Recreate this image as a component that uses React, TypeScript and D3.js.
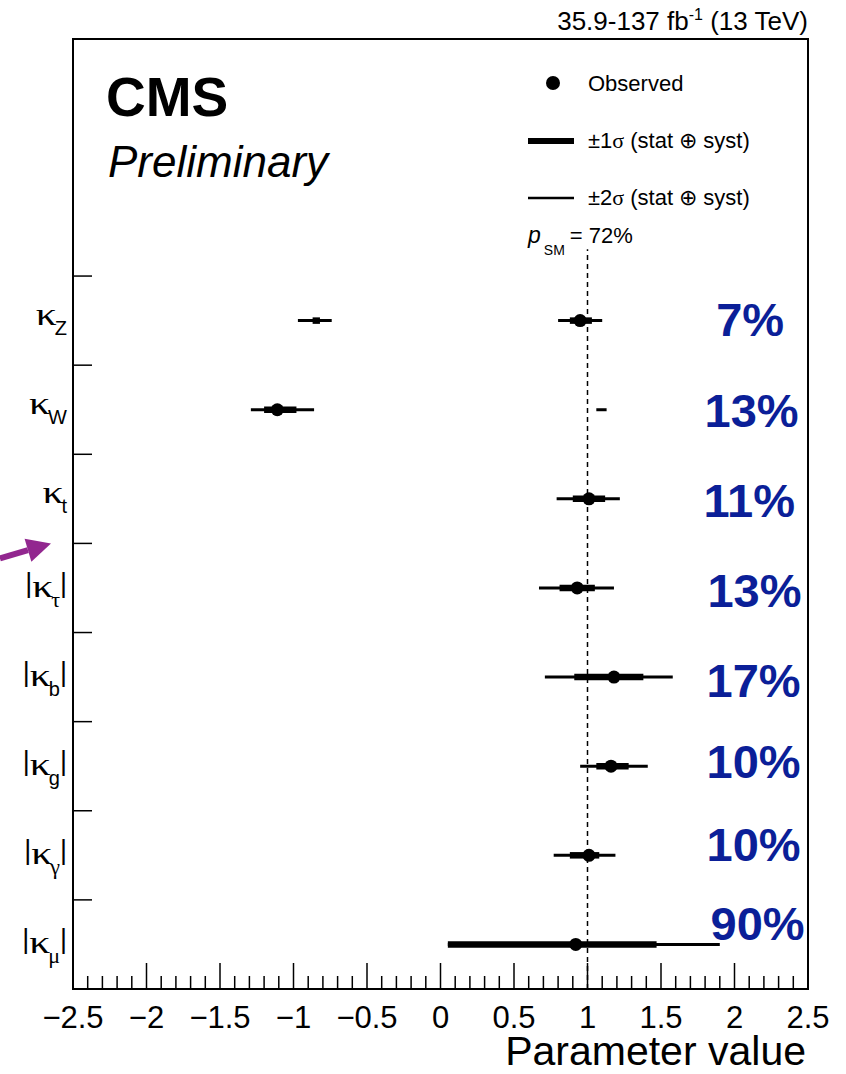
import React from "react";
import * as d3 from "d3";

// ---------- data ----------
const labelBase = ["κ", "κ", "κ", "κ", "κ", "κ", "κ", "κ"];
const labelSub = ["Z", "W", "t", "τ", "b", "g", "γ", "μ"];
const labelAbs = [false, false, false, true, true, true, true, true];
const bestFit = [0.95, -1.11, 1.01, 0.93, 1.18, 1.16, 1.01, 0.92];
const sigma1: number[][][] = [
  [[-0.87, -0.82], [0.88, 1.03]],
  [[-1.2, -0.98]],
  [[0.9, 1.12]],
  [[0.81, 1.05]],
  [[0.91, 1.38]],
  [[1.06, 1.28]],
  [[0.88, 1.08]],
  [[0.05, 1.47]],
];
const sigma2: number[][][] = [
  [[-0.97, -0.74], [0.8, 1.1]],
  [[-1.29, -0.86], [1.06, 1.13]],
  [[0.79, 1.22]],
  [[0.67, 1.18]],
  [[0.71, 1.58]],
  [[0.95, 1.41]],
  [[0.77, 1.19]],
  [[0.05, 1.9]],
];
const precision = ["7%", "13%", "11%", "13%", "17%", "10%", "10%", "90%"];
// annotation anchor for precision labels, in data units (x value, y value of baseline)
const precisionX = [1.875, 1.796, 1.789, 1.816, 1.81, 1.81, 1.81, 1.837];
const precisionY = [7.326, 6.305, 5.295, 4.285, 3.276, 2.367, 1.436, 0.55];
const xTickValues = [-2.5, -2, -1.5, -1, -0.5, 0, 0.5, 1, 1.5, 2, 2.5];
const xTickLabels = ["−2.5", "−2", "−1.5", "−1", "−0.5", "0", "0.5", "1", "1.5", "2", "2.5"];
const smValue = 1;
const pSM = "72%";

// ---------- layout ----------
const W = 846;
const H = 1074;
const left = 73;
const right = 808;
const top = 39;
const bottom = 989;
const N = labelBase.length;

const x = d3.scaleLinear().domain([-2.5, 2.5]).range([left, right]);
const y = d3.scaleLinear().domain([0, 10.66]).range([bottom, top]);
const rowY = (i: number) => y(N - 1 - i + 0.5);

const SANS = "'Liberation Sans', Arial, Helvetica, sans-serif";
const SERIF = "'Liberation Serif', 'Times New Roman', serif";
const BLUE = "#0b1f98";

export default function App() {
  const minor = d3.range(-25, 26).map((k) => k / 10);
  const yTicks = d3.range(1, N + 1);
  const arrowTipY = y(5);
  const arrowTipX = 51;
  const ang = Math.atan2(-15, 51);
  const ux = Math.cos(ang), uy = Math.sin(ang);
  const headLen = 24, headHalf = 12;
  const bx = arrowTipX - headLen * ux, by = arrowTipY - headLen * uy;
  const arrowStart = { x: 0, y: arrowTipY + 15 };
  const headPts = [
    [arrowTipX, arrowTipY],
    [bx - uy * headHalf, by + ux * headHalf],
    [bx + uy * headHalf, by - ux * headHalf],
  ];

  return (
    <svg
      width={W}
      height={H}
      style={{ position: "absolute", left: 0, top: 0, background: "#fff" }}
      xmlns="http://www.w3.org/2000/svg"
    >
      <rect x={0} y={0} width={W} height={H} fill="#fff" />

      {/* header */}
      <text x={808} y={30} textAnchor="end" fontFamily={SANS} fontSize={26} fill="#000">
        35.9-137 fb
        <tspan fontSize={16} dy={-10}>-1</tspan>
        <tspan dy={10}> (13 TeV)</tspan>
      </text>

      {/* SM dashed line */}
      <line
        x1={x(smValue)}
        x2={x(smValue)}
        y1={y(0)}
        y2={y(8.3)}
        stroke="#000"
        strokeWidth={1.5}
        strokeDasharray="5,4"
      />

      {/* data */}
      {bestFit.map((v, i) => (
        <g key={i}>
          {sigma2[i].map((iv, k) => (
            <line key={"s2" + k} x1={x(iv[0])} x2={x(iv[1])} y1={rowY(i)} y2={rowY(i)} stroke="#000" strokeWidth={3} />
          ))}
          {sigma1[i].map((iv, k) => (
            <line key={"s1" + k} x1={x(iv[0])} x2={x(iv[1])} y1={rowY(i)} y2={rowY(i)} stroke="#000" strokeWidth={6.5} />
          ))}
          <circle cx={x(v)} cy={rowY(i)} r={6.5} fill="#000" />
        </g>
      ))}

      {/* precision annotations */}
      {precision.map((p, i) => (
        <text
          key={i}
          x={x(precisionX[i])}
          y={y(precisionY[i])}
          fontFamily={SANS}
          fontWeight="bold"
          fontSize={47}
          fill={BLUE}
        >
          {p}
        </text>
      ))}

      {/* frame */}
      <rect x={left} y={top} width={right - left} height={bottom - top} fill="none" stroke="#000" strokeWidth={2} />

      {/* x ticks */}
      {minor.map((m, k) => {
        const major = Math.abs(Math.round(m * 10) % 5) === 0;
        return (
          <line key={k} x1={x(m)} x2={x(m)} y1={bottom} y2={bottom - (major ? 26 : 13)} stroke="#000" strokeWidth={1.5} />
        );
      })}
      {xTickValues.map((v, k) => (
        <text key={k} x={x(v)} y={1028} textAnchor="middle" fontFamily={SANS} fontSize={31} fill="#000">
          {xTickLabels[k]}
        </text>
      ))}
      <text x={806} y={1065} textAnchor="end" fontFamily={SANS} fontSize={41} fill="#000">
        Parameter value
      </text>

      {/* y ticks */}
      {yTicks.map((t) => (
        <line key={t} x1={left} x2={left + 19} y1={y(t)} y2={y(t)} stroke="#000" strokeWidth={1.5} />
      ))}

      {/* y labels */}
      {labelBase.map((b, i) => {
        const abs = labelAbs[i];
        const greek = ["τ", "γ", "μ"].includes(labelSub[i]);
        const subFont = greek ? SERIF : SANS;
        return (
          <text key={i} x={67} y={rowY(i) + (abs ? 9 : 4)} textAnchor="end" fill="#000">
            {abs && (
              <tspan fontFamily={SANS} fontSize={27} dy={-5}>|</tspan>
            )}
            <tspan
              fontFamily={SERIF}
              fontSize={32}
              dy={abs ? 5 : 0}
              textLength={21}
              lengthAdjust="spacingAndGlyphs"
            >
              {b}
            </tspan>
            <tspan fontFamily={subFont} fontSize={greek ? 22 : 20} dy={10} dx={-2}>{labelSub[i]}</tspan>
            {abs && (
              <tspan fontFamily={SANS} fontSize={27} dy={-15}>|</tspan>
            )}
          </text>
        );
      })}

      {/* CMS labels */}
      <text x={106} y={116} fontFamily={SANS} fontWeight="bold" fontSize={55} fill="#000">CMS</text>
      <text x={108} y={177} fontFamily={SANS} fontStyle="italic" fontSize={44} fill="#000">Preliminary</text>

      {/* legend */}
      <circle cx={553} cy={83} r={7} fill="#000" />
      <text x={588} y={91} fontFamily={SANS} fontSize={22} fill="#000">Observed</text>
      <line x1={528} x2={574} y1={141} y2={141} stroke="#000" strokeWidth={6} />
      <text x={588} y={148} fontFamily={SANS} fontSize={22} fill="#000">
        ±1<tspan fontFamily={SERIF}>σ</tspan> (stat ⊕ syst)
      </text>
      <line x1={528} x2={574} y1={198} y2={198} stroke="#000" strokeWidth={2.5} />
      <text x={588} y={205} fontFamily={SANS} fontSize={22} fill="#000">
        ±2<tspan fontFamily={SERIF}>σ</tspan> (stat ⊕ syst)
      </text>
      <text x={528} y={243} fontFamily={SANS} fontSize={22} fill="#000">
        <tspan fontStyle="italic" fontSize={23}>p</tspan>
        <tspan fontSize={14} dy={12} dx={3}>SM</tspan>
        <tspan dy={-12} dx={5}>= {pSM}</tspan>
      </text>

      {/* annotation arrow */}
      <line x1={arrowStart.x} y1={arrowStart.y} x2={bx} y2={by} stroke="#92278f" strokeWidth={6} />
      <polygon points={headPts.map((p) => p.join(",")).join(" ")} fill="#92278f" />
    </svg>
  );
}
